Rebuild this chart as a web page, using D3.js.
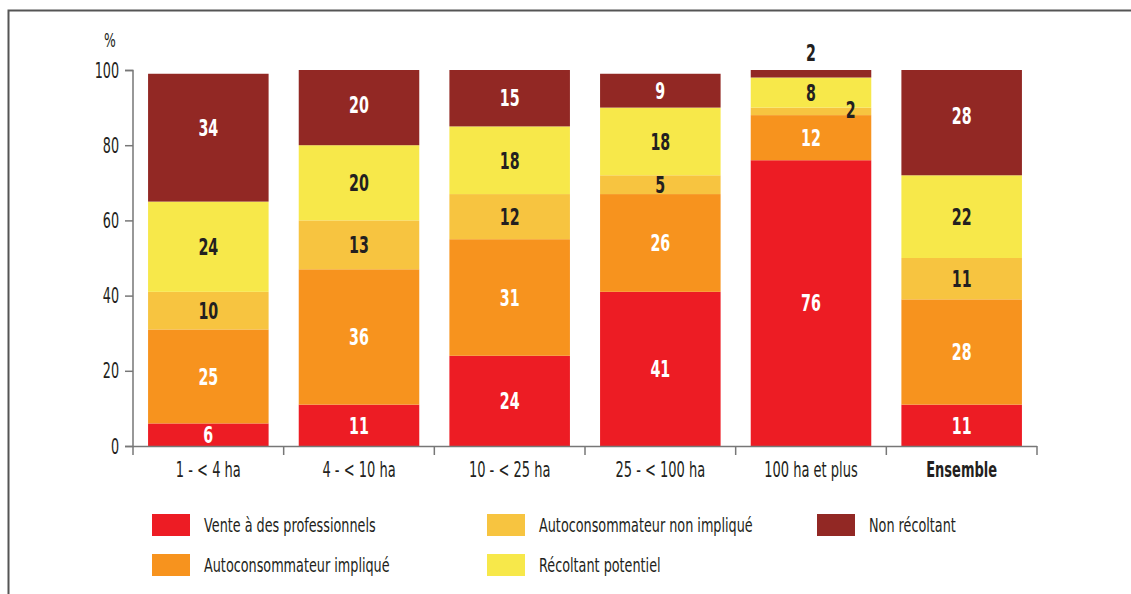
<!DOCTYPE html>
<html lang="fr">
<head>
  <meta charset="UTF-8" />
  <title>Répartition par classe de surface</title>
  <script src="https://d3js.org/d3.v7.min.js"></script>
  <style>
    body { margin: 0; background: #fff; }
    svg text { font-family: "DejaVu Sans", sans-serif; fill: #231f20; }
  </style>
</head>
<body>
<script>
  // data (%)
  var categories = ["1 - < 4 ha", "4 - < 10 ha", "10 - < 25 ha", "25 - < 100 ha", "100 ha et plus", "Ensemble"];
  var vente      = [6, 11, 24, 41, 76, 11];
  var implique   = [25, 36, 31, 26, 12, 28];
  var nonImpl    = [10, 13, 12, 5, 2, 11];
  var potentiel  = [24, 20, 18, 18, 8, 22];
  var nonRecolt  = [34, 20, 15, 9, 2, 28];
  var yTicks = [0, 20, 40, 60, 80, 100];

  var seriesNames = ["Vente à des professionnels", "Autoconsommateur impliqué", "Autoconsommateur non impliqué", "Récoltant potentiel", "Non récoltant"];
  var seriesColors = ["#ed1c24", "#f7931e", "#f7c440", "#f7e84a", "#922824"];
  var labelColors = ["#fff", "#fff", "#231f20", "#231f20", "#fff"];

  var w = 1131, h = 594;
  var svg = d3.select("body").append("svg").attr("width", w).attr("height", h);

  // no condensed font available -> squeeze the text horizontally
  function narrow(sel, sx) {
    sel.each(function() {
      var t = d3.select(this);
      var tx = +t.attr("x") || 0, ty = +t.attr("y") || 0;
      t.attr("x", 0).attr("y", 0)
        .attr("transform", "translate(" + tx + "," + ty + ") scale(" + sx + ",1)");
    });
  }

  // frame
  svg.append("path").attr("d", "M8.5," + h + "V10.5H" + w)
    .attr("fill", "none").attr("stroke", "#555").attr("stroke-width", 2);

  var x = d3.scaleBand().domain(categories).range([133, 1037]).paddingInner(0.2).paddingOuter(0.1);
  var y = d3.scaleLinear().domain([0, 100]).range([446, 70]);

  var keys = ["vente", "implique", "nonImpl", "potentiel", "nonRecolt"];
  var rows = categories.map(function(c, i) {
    return { cat: c, vente: vente[i], implique: implique[i], nonImpl: nonImpl[i], potentiel: potentiel[i], nonRecolt: nonRecolt[i] };
  });
  var stacked = d3.stack().keys(keys)(rows);

  var layers = svg.selectAll("g.layer").data(stacked).enter().append("g")
    .attr("class", "layer")
    .attr("fill", function(d, i) { return seriesColors[i]; });

  layers.selectAll("rect").data(function(d) { return d; }).enter().append("rect")
    .attr("x", function(d) { return x(d.data.cat); })
    .attr("y", function(d) { return y(d[1]); })
    .attr("width", x.bandwidth())
    .attr("height", function(d) { return y(d[0]) - y(d[1]); });

  // value labels
  stacked.forEach(function(layer, k) {
    layer.forEach(function(d) {
      var v = d[1] - d[0];
      var cx = x(d.data.cat) + x.bandwidth() / 2;
      var cy = (y(d[0]) + y(d[1])) / 2;
      var col = labelColors[k];
      // top segment labels sit a bit above the middle
      if (k === 4 && v > 15) cy -= (v - 15) * 0.5;
      if (v < 4) {
        // small segments: label moved outside
        if (k === 4) { cy = y(d[1]) - 17; col = "#231f20"; }
        else { cx = x(d.data.cat) + x.bandwidth() * 0.83; cy = y(d[1]) + 2; col = "#231f20"; }
      }
      svg.append("text")
        .attr("class", "val")
        .attr("x", cx).attr("y", cy)
        .attr("dy", "0.36em")
        .attr("text-anchor", "middle")
        .style("font-size", "23px").style("font-weight", "bold")
        .style("fill", col)
        .text(v);
    });
  });
  narrow(svg.selectAll("text.val"), 0.62);

  // y axis
  var yAxis = svg.append("g").attr("transform", "translate(133,0)")
    .call(d3.axisLeft(y).tickValues(yTicks).tickSize(8).tickPadding(6));
  yAxis.attr("font-family", null).attr("font-size", null);
  yAxis.selectAll("text").style("font-size", "22px");
  narrow(yAxis.selectAll("text"), 0.58);
  yAxis.selectAll("line, path").attr("stroke", "#777").attr("stroke-width", 1.5);
  yAxis.select(".domain").attr("d", "M-8,70.5H0V446.5H-8");

  narrow(svg.append("text").attr("x", 110).attr("y", 40).attr("dy", "0.36em").attr("text-anchor", "middle")
    .style("font-size", "20px").text("%"), 0.62);

  // x axis
  var xAxis = svg.append("g").attr("transform", "translate(0,446)");
  xAxis.append("line").attr("x1", 133).attr("x2", 1037).attr("y1", 0.5).attr("y2", 0.5)
    .attr("stroke", "#777").attr("stroke-width", 1.5);
  var bounds = categories.map(function(c) { return x(c) - x.step() * x.paddingInner() / 2; }).concat([1037]);
  bounds[0] = 133;
  xAxis.selectAll("line.tick").data(bounds).enter().append("line")
    .attr("class", "tick")
    .attr("x1", function(d) { return d; }).attr("x2", function(d) { return d; })
    .attr("y1", 0).attr("y2", 9)
    .attr("stroke", "#777").attr("stroke-width", 1.5);
  var xLabels = xAxis.selectAll("text").data(categories).enter().append("text")
    .attr("x", function(d) { return x(d) + x.bandwidth() / 2; })
    .attr("y", 23)
    .attr("dy", "0.36em")
    .attr("text-anchor", "middle")
    .style("font-size", "21px")
    .style("font-weight", function(d, i) { return i === categories.length - 1 ? "bold" : "normal"; })
    .text(function(d) { return d; });
  narrow(xLabels, 0.62);

  // legend
  var legendCols = [152, 487, 817];
  var legendRows = [514, 554];
  var legendPos = [[0, 0], [0, 1], [1, 0], [1, 1], [2, 0]];
  seriesNames.forEach(function(name, i) {
    var lx = legendCols[legendPos[i][0]], ly = legendRows[legendPos[i][1]];
    svg.append("rect").attr("x", lx).attr("y", ly).attr("width", 38).attr("height", 22)
      .attr("fill", seriesColors[i]);
    narrow(svg.append("text").attr("x", lx + 52).attr("y", ly + 11).attr("dy", "0.36em")
      .style("font-size", "20px").text(name), 0.64);
  });
</script>
</body>
</html>
